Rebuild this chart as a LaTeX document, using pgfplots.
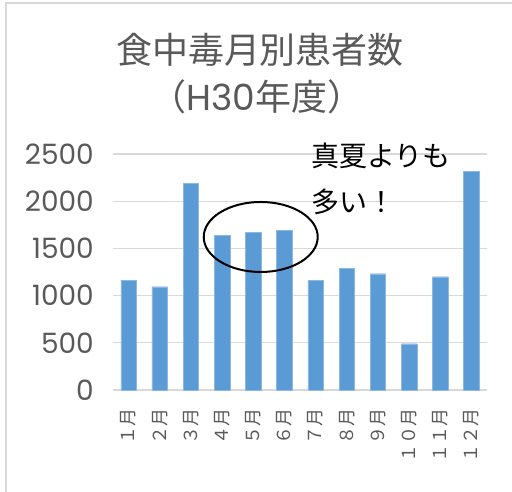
\documentclass[border=0pt]{standalone}
\usepackage{pgfplots}
\pgfplotsset{compat=1.18}
\usepackage{fontspec}
\setmainfont{Noto Sans CJK JP}
\newfontfamily\pop{Poppins}
\definecolor{barblue}{HTML}{5B9BD5}
\definecolor{txtgray}{HTML}{595959}
\definecolor{gridgray}{HTML}{D9D9D9}
\begin{document}
\begin{tikzpicture}
\useasboundingbox (0,0) rectangle (512pt,-492pt);
\draw[gridgray, line width=1.2pt] (6pt,-3pt) rectangle (530pt,-520pt);
\begin{axis}[
  at={(113pt,-390pt)}, anchor=south west,
  scale only axis, width=374pt, height=236pt,
  xmin=-0.5, xmax=11.5, ymin=0, ymax=2500,
  ytick={0,500,1000,1500,2000,2500},
  yticklabels={0,500,1000,1500,2000,2500},
  xtick={0,1,2,3,4,5,6,7,8,9,10,11},
  xticklabels={１月,２月,３月,４月,５月,６月,７月,８月,９月,１０月,１１月,１２月},
  major tick length=0pt,
  ymajorgrids, grid style={gridgray, line width=1.2pt},
  axis line style={draw=none},
  yticklabel style={font=\pop\fontsize{28}{28}\selectfont, text=txtgray, inner sep=0pt, anchor=east, xshift=-19pt},
  xticklabel style={font=\fontsize{18}{18}\selectfont, text=txtgray, yshift=-18pt, rotate=90, anchor=east, inner sep=0pt},
  clip=false,
]
\addplot[ybar, bar width=15.5pt, fill=barblue, draw=barblue!70!white] coordinates {
(0,1165) (1,1094) (2,2189) (3,1638) (4,1670) (5,1688)
(6,1165) (7,1285) (8,1232) (9,490) (10,1200) (11,2316)};
\draw[black, line width=2pt] (axis cs:4.24,1621) ellipse [x radius=57pt, y radius=35pt];
\end{axis}
\node[text=txtgray, font=\fontsize{36}{36}\selectfont] at (260pt,-50pt) {食中毒月別患者数};
\node[text=txtgray, font=\fontsize{36}{36}\selectfont] at (257pt,-97pt) {（{\pop H30}年度）};
\node[anchor=west, inner sep=0pt, font=\fontsize{28}{28}\selectfont] at (311pt,-156pt) {真夏よりも};
\node[anchor=west, inner sep=0pt, font=\fontsize{28}{28}\selectfont] at (311pt,-202pt) {多い！};
\end{tikzpicture}
\end{document}
